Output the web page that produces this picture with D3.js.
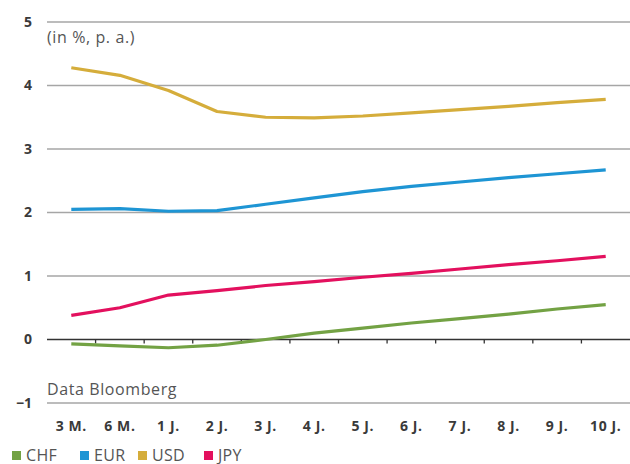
<!DOCTYPE html>
<html>
<head>
<meta charset="utf-8">
<script src="https://cdn.jsdelivr.net/npm/d3@7"></script>
<style>
  html, body { margin: 0; padding: 0; background: #fff; }
  svg { display: block; font-family: "Open Sans", "Lato", sans-serif; }
</style>
</head>
<body>
<svg id="chart" width="630" height="464"></svg>
<script>
// Maturities on the x axis
const maturities = ["3 M.", "6 M.", "1 J.", "2 J.", "3 J.", "4 J.", "5 J.", "6 J.", "7 J.", "8 J.", "9 J.", "10 J."];

// Swap rates per currency (in %, p. a.)
const chf = [-0.07, -0.10, -0.13, -0.09, 0.00, 0.10, 0.18, 0.26, 0.33, 0.40, 0.48, 0.55];
const eur = [2.05, 2.06, 2.02, 2.03, 2.13, 2.23, 2.33, 2.41, 2.48, 2.55, 2.61, 2.67];
const usd = [4.28, 4.16, 3.92, 3.59, 3.50, 3.49, 3.52, 3.57, 3.62, 3.67, 3.73, 3.78];
const jpy = [0.38, 0.50, 0.70, 0.77, 0.85, 0.91, 0.98, 1.04, 1.11, 1.18, 1.24, 1.31];

const yTicks = [-1, 0, 1, 2, 3, 4, 5];

const series = [
  { name: "CHF", values: chf, color: "#73a244" },
  { name: "EUR", values: eur, color: "#1e95d4" },
  { name: "USD", values: usd, color: "#d5ad3b" },
  { name: "JPY", values: jpy, color: "#e3105e" }
];

const svg = d3.select("#chart");
const plotLeft = 47, plotRight = 630, plotTop = 22, plotBottom = 403;

const x = d3.scaleBand().domain(maturities).range([plotLeft, plotRight]);
const y = d3.scaleLinear().domain([-1, 5]).range([plotBottom, plotTop]);

// Horizontal gridlines
svg.append("g")
  .selectAll("line")
  .data(yTicks.filter(d => d !== 0))
  .join("line")
  .attr("x1", plotLeft).attr("x2", plotRight)
  .attr("y1", d => y(d)).attr("y2", d => y(d))
  .attr("stroke", "#a6a6a6").attr("stroke-width", 1.3);

// Y tick labels
svg.append("g")
  .selectAll("text")
  .data(yTicks)
  .join("text")
  .attr("x", 32).attr("y", d => y(d))
  .attr("dy", "0.35em")
  .attr("text-anchor", "end")
  .attr("font-size", 14).attr("font-weight", 700)
  .attr("fill", "#3a3a3a")
  .text(d => d < 0 ? "\u2212" + Math.abs(d) : d);

// Zero axis with category ticks
const xAxis = d3.axisBottom(x).tickSize(4).tickFormat("");
const zeroAxis = svg.append("g")
  .attr("transform", `translate(0,${y(0)})`)
  .call(xAxis);
zeroAxis.select(".domain").attr("stroke", "#333").attr("stroke-width", 1.6).attr("d", `M${plotLeft},0H${plotRight}`);
zeroAxis.selectAll(".tick line").attr("stroke", "#333").attr("stroke-width", 1.3)
  .attr("transform", `translate(${-x.bandwidth() / 2},0)`);
zeroAxis.selectAll(".tick").filter((d, i) => i === 0).remove();

// X labels
svg.append("g")
  .selectAll("text")
  .data(maturities)
  .join("text")
  .attr("x", d => x(d) + x.bandwidth() / 2)
  .attr("y", 426)
  .attr("dy", "0.35em")
  .attr("text-anchor", "middle")
  .attr("font-size", 14).attr("font-weight", 700)
  .attr("letter-spacing", 0.6)
  .attr("fill", "#3a3a3a")
  .text(d => d);

// Annotations
svg.append("text").attr("x", 47).attr("y", 37).attr("dy", "0.35em")
  .attr("font-size", 16).attr("letter-spacing", 0.6).attr("fill", "#555").text("(in %, p. a.)");
svg.append("text").attr("x", 47).attr("y", 389).attr("dy", "0.35em")
  .attr("font-size", 16).attr("letter-spacing", 0.6).attr("fill", "#555").text("Data Bloomberg");

// Series lines
const line = d3.line()
  .x((d, i) => x(maturities[i]) + x.bandwidth() / 2)
  .y(d => y(d));

svg.append("g")
  .selectAll("path")
  .data(series)
  .join("path")
  .attr("d", s => line(s.values))
  .attr("fill", "none")
  .attr("stroke", s => s.color)
  .attr("stroke-width", 3.2)
  .attr("stroke-linejoin", "round");

// Legend
const legendX = [12, 80, 138, 204];
const legend = svg.append("g")
  .selectAll("g")
  .data(series)
  .join("g")
  .attr("transform", (s, i) => `translate(${legendX[i]},451)`);
legend.append("rect").attr("width", 9).attr("height", 9).attr("fill", s => s.color);
legend.append("text").attr("x", 14).attr("y", 9.5)
  .attr("font-size", 16).attr("letter-spacing", 0.3).attr("fill", "#555").text(s => s.name);
</script>
</body>
</html>
